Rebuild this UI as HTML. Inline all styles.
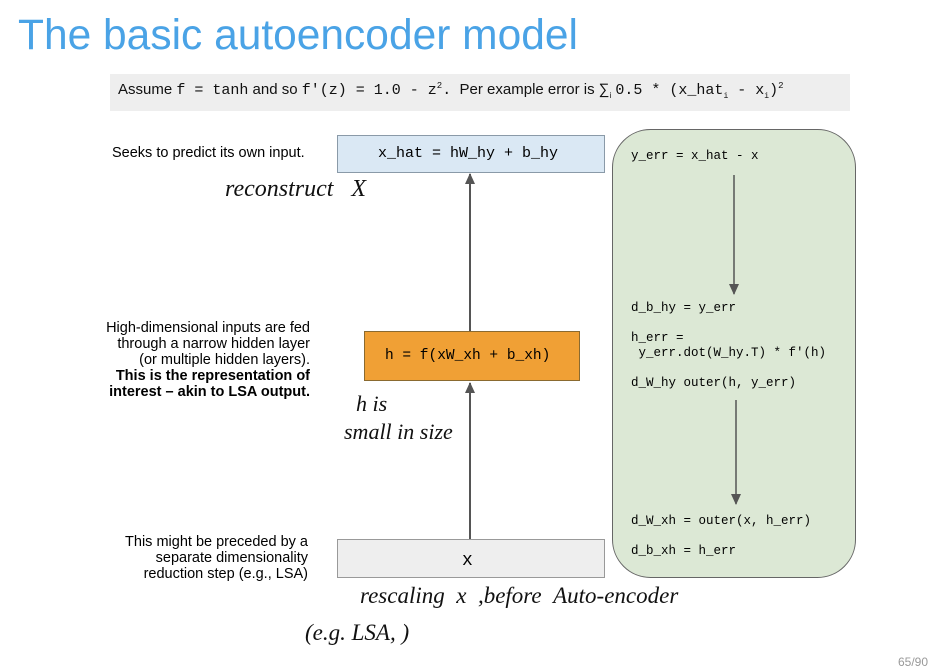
<!DOCTYPE html>
<html><head><style>
body{margin:0;width:952px;height:670px;background:#fff;position:relative;font-family:"Liberation Sans",sans-serif;overflow:hidden}
.a{position:absolute;white-space:nowrap}
.m{font-family:"Liberation Mono",monospace}
.hw{font-family:"Liberation Serif",serif;font-style:italic;color:#111}
</style></head><body>
<div class="a" style="left:18px;top:12px;font-size:42.5px;color:#4aa3e6">The basic autoencoder model</div>
<div class="a" style="left:110px;top:74px;width:740px;height:37px;background:#eeeeee"></div>
<div class="a" style="left:118px;top:81px;font-size:15px;color:#111">Assume <span class="m" style="font-size:15px">f = tanh</span> and so <span class="m" style="font-size:15px">f′(z) = 1.0 - z<sup style="font-size:9px">2</sup>.</span>&nbsp; Per example error is ∑<sub style="font-size:8px">i</sub> <span class="m" style="font-size:15px">0.5 * (x_hat<sub style="font-size:8px">i</sub> - x<sub style="font-size:8px">i</sub>)<sup style="font-size:9px">2</sup></span></div>

<div class="a" style="left:112px;top:145px;font-size:14.5px">Seeks to predict its own input.</div>
<div class="a" style="left:40px;top:320px;width:270px;text-align:right;font-size:14.5px;line-height:16px">High-dimensional inputs are fed<br>through a narrow hidden layer<br>(or multiple hidden layers).<br><b>This is the representation of<br>interest – akin to LSA output.</b></div>
<div class="a" style="left:40px;top:534px;width:268px;text-align:right;font-size:14.5px;line-height:16px">This might be preceded by a<br>separate dimensionality<br>reduction step (e.g., LSA)</div>

<svg class="a" style="left:0;top:0" width="952" height="670">
<defs><marker id="ar" markerWidth="11" markerHeight="10" refX="10" refY="5" orient="auto" markerUnits="userSpaceOnUse"><path d="M0,0 L11,5 L0,10z" fill="#555"/></marker></defs>
<rect x="337.5" y="135.5" width="267" height="37" fill="#dae8f4" stroke="#8a9aa8"/>
<rect x="364.5" y="331.5" width="215" height="49" fill="#f0a035" stroke="#8a6a30"/>
<rect x="337.5" y="539.5" width="267" height="38" fill="#eeeeee" stroke="#999"/>
<line x1="470" y1="539" x2="470" y2="383" stroke="#555" stroke-width="2" marker-end="url(#ar)"/>
<line x1="470" y1="331" x2="470" y2="174" stroke="#555" stroke-width="2" marker-end="url(#ar)"/>
<rect x="612.5" y="129.5" width="243" height="448" rx="38" fill="#dce8d5" stroke="#666"/>
<line x1="734" y1="175" x2="734" y2="294" stroke="#555" stroke-width="1.5" marker-end="url(#ar)"/>
<line x1="736" y1="400" x2="736" y2="504" stroke="#555" stroke-width="1.5" marker-end="url(#ar)"/>
</svg>
<div class="a m" style="left:378px;top:145px;font-size:15px">x_hat = hW_hy + b_hy</div>
<div class="a m" style="left:385px;top:348px;font-size:14.5px">h = f(xW_xh + b_xh)</div>
<div class="a m" style="left:462px;top:551px;font-size:18px">x</div>
<div class="a m" style="left:631px;top:149px;font-size:12.5px;line-height:15px">y_err = x_hat - x</div>
<div class="a m" style="left:631px;top:301px;font-size:12.5px;line-height:15px">d_b_hy = y_err<br><br>h_err =<br>&nbsp;y_err.dot(W_hy.T) * f′(h)<br><br>d_W_hy outer(h, y_err)</div>
<div class="a m" style="left:631px;top:514px;font-size:12.5px;line-height:15px">d_W_xh = outer(x, h_err)<br><br>d_b_xh = h_err</div>

<div class="a hw" style="left:225px;top:176px;font-size:24px">reconstruct&nbsp;&nbsp;&nbsp;X</div>
<div class="a hw" style="left:356px;top:390px;font-size:22px;line-height:28px">h is<br><span style="margin-left:-12px">small in size</span></div>
<div class="a hw" style="left:360px;top:583px;font-size:23px">rescaling&nbsp;&nbsp;x&nbsp;&nbsp;,before&nbsp;&nbsp;Auto-encoder</div>
<div class="a hw" style="left:305px;top:620px;font-size:23px">(e.g. LSA, )</div>
<div class="a" style="left:898px;top:655px;font-size:12px;color:#999">65/90</div>
</body></html>
